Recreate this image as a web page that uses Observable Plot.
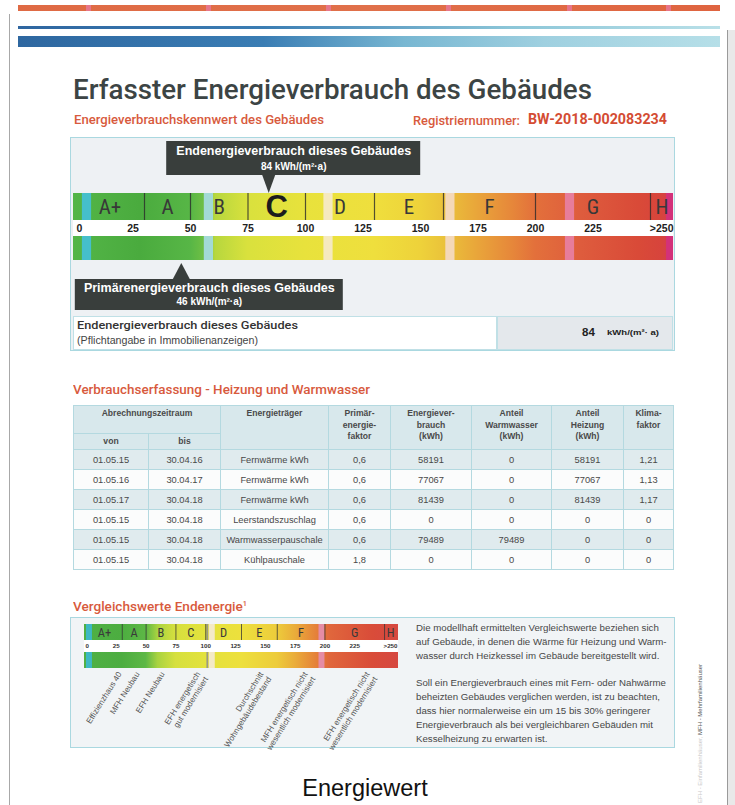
<!DOCTYPE html>
<html lang="de">
<head>
<meta charset="utf-8">
<script src="https://cdn.jsdelivr.net/npm/d3@7"></script>
<script src="https://cdn.jsdelivr.net/npm/@observablehq/plot@0.6"></script>
<style>
html,body{margin:0;padding:0;background:#fff;}
#page{position:relative;width:735px;height:805px;overflow:hidden;font-family:"Liberation Sans",Arial,sans-serif;}
.t{position:absolute;white-space:nowrap;line-height:1;transform-origin:0 0;}
.din{font-family:Roboto,"Liberation Sans",sans-serif;font-weight:500;}
.abs{position:absolute;}
table.tab{position:absolute;left:73px;top:405px;width:600px;border-collapse:collapse;table-layout:fixed;font-size:9.3px;color:#484848;}
table.tab td,table.tab th{border:1px solid #b4d9e0;text-align:center;padding:0;white-space:nowrap;overflow:hidden;}
table.tab th{background:#d8e8ec;font-weight:bold;font-size:8.6px;color:#4a4a4a;vertical-align:top;line-height:11.6px;padding-top:2px;}
table.tab th.sub{vertical-align:middle;padding-top:0;}
table.tab tr.h1{height:28px;}
table.tab tr.h2{height:16px;}
table.tab tr.r{height:20px;}
table.tab tr.s td{background:#e0ebee;}
table.tab tr.w td{background:#fbfcfc;}
</style>
</head>
<body>
<div id="page"></div>
<script>
// ---------- DATA ----------
const classes = ["A+","A","B","C","D","E","F","G","H"];
const classStart = [0,30,50,75,100,130,160,200,250];
const classEnd = [30,50,75,100,130,160,200,250,260];
const scaleTicks = [0,25,50,75,100,125,150,175,200,225,250];
const scaleTickLabels = ["0","25","50","75","100","125","150","175","200","225",">250"];
const endenergieWert = 84;
const primaerenergieWert = 46;
const endenergieKlasse = "C";
const einheit = "kWh/(m²·a)";

const vergleichsLabels = ["Effizienzhaus 40","MFH Neubau","EFH Neubau","EFH energetisch\ngut modernisiert","Durchschnitt\nWohngebäudebestand","MFH energetisch nicht\nwesentlich modernisiert","EFH energetisch nicht\nwesentlich modernisiert"];
const vergleichsWerte = [25,40,61,91,144,181,233];

const tabVon = ["01.05.15","01.05.16","01.05.17","01.05.15","01.05.15","01.05.15"];
const tabBis = ["30.04.16","30.04.17","30.04.18","30.04.18","30.04.18","30.04.18"];
const tabTraeger = ["Fernwärme kWh","Fernwärme kWh","Fernwärme kWh","Leerstandszuschlag","Warmwasserpauschale","Kühlpauschale"];
const tabPEF = ["0,6","0,6","0,6","0,6","0,6","1,8"];
const tabVerbrauch = [58191,77067,81439,0,79489,0];
const tabWarmwasser = [0,0,0,0,79489,0];
const tabHeizung = [58191,77067,81439,0,0,0];
const tabKlima = ["1,21","1,13","1,17","0","0","0"];
const tabHeader = ["Abrechnungszeitraum","von","bis","Energieträger","Primär-<br>energie-<br>faktor","Energiever-<br>brauch<br>(kWh)","Anteil<br>Warmwasser<br>(kWh)","Anteil<br>Heizung<br>(kWh)","Klima-<br>faktor"];

const infoText = [
 ["Die modellhaft ermittelten Vergleichswerte beziehen sich","auf Gebäude, in denen die Wärme für Heizung und Warm-","wasser durch Heizkessel im Gebäude bereitgestellt wird."],
 ["Soll ein Energieverbrauch eines mit Fern- oder Nahwärme","beheizten Gebäudes verglichen werden, ist zu beachten,","dass hier normalerweise ein um 15 bis 30% geringerer","Energieverbrauch als bei vergleichbaren Gebäuden mit","Kesselheizung zu erwarten ist."]
];

// ---------- STYLE (colour ramps, print marks) ----------
const gradMain = [[0,"#53b547"],[28,"#4aab3e"],[50,"#57b646"],[56,"#6fbf44"],[61,"#b7d73e"],[75,"#d9e13d"],[100,"#e8e23c"],[130,"#efdf3d"],[150,"#eed23a"],[162,"#eac03a"],[175,"#e9a53a"],[190,"#e6873a"],[200,"#e3703b"],[220,"#de5c3d"],[245,"#d94a38"],[255,"#d7443c"],[260,"#d53a55"]];
const stripesMain = [[3,7,"#45bfcb"],[56,60,"#a3dad5"],[108,112,"#f5e9bf"],[161,165,"#f4d8b8"],[213,217,"#e77d9b"],[257,260,"#d3317a"]];
const gradCmp = [[0,"#4fb044"],[30,"#4cad40"],[50,"#5db846"],[60,"#a9d340"],[75,"#d6e03e"],[100,"#e3e23d"],[130,"#ede03d"],[160,"#edcc3b"],[175,"#eaad3a"],[195,"#e47c39"],[205,"#e0663c"],[240,"#d94c39"],[260,"#d64840"]];
const stripesCmp = [[0,5,"#3db8c3"],[101,102.5,"#9a9a86"],[103,108,"#f4eac6"],[195,200,"#e58ca5"]];

const page = document.getElementById("page");
function el(tag, cls, style, html, parent=page){const e=document.createElement(tag); if(cls) e.className=cls; Object.assign(e.style, style||{}); if(html!=null) e.innerHTML=html; parent.appendChild(e); return e;}
function txt(html, left, baseline, fs, style, fitW, cls="t"){
  const e = el("div", cls, Object.assign({left:left+"px", top:(baseline-0.845*fs)+"px", fontSize:fs+"px"}, style||{}), html);
  if(fitW){const w=e.getBoundingClientRect().width; if(w>0) e.style.transform=`scaleX(${fitW/w})`;}
  return e;
}
function addGradient(svg, id, stops, xmax){
  const ns="http://www.w3.org/2000/svg", sx=svg.scale("x");
  const defs=document.createElementNS(ns,"defs"), lg=document.createElementNS(ns,"linearGradient");
  lg.setAttribute("id",id); lg.setAttribute("gradientUnits","userSpaceOnUse");
  lg.setAttribute("x1",sx.apply(0)); lg.setAttribute("x2",sx.apply(xmax)); lg.setAttribute("y1",0); lg.setAttribute("y2",0);
  for(const [v,c] of stops){const s=document.createElementNS(ns,"stop"); s.setAttribute("offset",v/xmax); s.setAttribute("stop-color",c); lg.appendChild(s);}
  defs.appendChild(lg); svg.insertBefore(defs, svg.firstChild);
}

// ---------- PAGE FRAME ----------
el("div","abs",{left:"9px",top:"14px",width:"1px",height:"791px",background:"#a8a8a8"});
el("div","abs",{left:"727px",top:"30px",width:"8px",height:"775px",background:"#e9e9e9",borderLeft:"1px solid #9a9a9a"});
el("div","abs",{left:"18px",top:"5px",width:"702px",height:"6px",background:"linear-gradient(90deg,#df6a44,#e0704a 50%,#df6440)"});
for(const px of [86,206,326,446,567,666]) el("div","abs",{left:px+"px",top:"5px",width:"5px",height:"6px",background:"#e87aa8",opacity:"0.7"});
el("div","abs",{left:"18px",top:"26px",width:"702px",height:"3px",background:"linear-gradient(90deg,#2f66a0,#3b7db3 35%,#8cc6d8 70%,#b9e0e8)"});
el("div","abs",{left:"18px",top:"36px",width:"702px",height:"11px",background:"linear-gradient(90deg,#2e67a0,#3a7db4 35%,#78b7d2 55%,#9fd0e0 75%,#b6dfe8)"});

// ---------- HEADINGS ----------
txt("Erfasster Energieverbrauch des Gebäudes",73,100,28,{color:"#3c4444"},519,"t din");
txt("Energieverbrauchskennwert des Gebäudes",74,125,12.5,{color:"#d85a3d"},250,"t din");
txt("Registriernummer:",413,125,13,{color:"#d85a3d"},107,"t din");
txt("BW-2018-002083234",528,125,14.5,{color:"#d44c33",fontWeight:"700"},139,"t din");

// ---------- MAIN SCALE BOX ----------
el("div","abs",{left:"70px",top:"137px",width:"605px",height:"214px",boxSizing:"border-box",border:"1px solid #aad8e0",background:"#eef1f4"});
const xMax = classEnd[classEnd.length-1];
const classData = classes.map((k,i)=>({klasse:k, von:classStart[i], bis:classEnd[i]}));
const H1 = 178;
const bar1 = {insetTop:56, insetBottom:H1-83};
const strip = {insetTop:83, insetBottom:H1-99};
const bar2 = {insetTop:99, insetBottom:H1-123};
const span = [[classStart[0], xMax]];
const pointerDown = {draw(c){c.moveTo(-6.5,0);c.lineTo(6.5,0);c.lineTo(0,18);c.closePath();}};
const pointerUp = {draw(c){c.moveTo(-9,0);c.lineTo(9,0);c.lineTo(0,-17);c.closePath();}};
const calloutFill = "#393e3c";
const narrow = "'Liberation Sans Narrow','Roboto Condensed','DejaVu Sans Condensed','Liberation Sans',sans-serif";
const T = {frameAnchor:"top", lineAnchor:"middle"};

const mainPlot = Plot.plot({
  width:605, height:H1, marginLeft:5, marginRight:2, marginTop:0, marginBottom:0,
  x:{domain:[0,xMax], axis:null}, color:{type:"identity"},
  style:{background:"transparent", fontFamily:"'Liberation Sans',Arial,sans-serif", overflow:"visible"},
  marks:[
    Plot.rect(span,{x1:d=>d[0],x2:d=>d[1],...bar1,insetLeft:-2,fill:"url(#gMain)"}),
    Plot.rect(span,{x1:d=>d[0],x2:d=>d[1],...strip,insetLeft:-2,fill:"#ffffff"}),
    Plot.rect(span,{x1:d=>d[0],x2:d=>d[1],...bar2,insetLeft:-2,fill:"url(#gMain)"}),
    Plot.rect(stripesMain,{x1:d=>d[0],x2:d=>d[1],...bar1,fill:d=>d[2]}),
    Plot.rect(stripesMain,{x1:d=>d[0],x2:d=>d[1],...bar2,fill:d=>d[2]}),
    Plot.ruleX(classStart.slice(1),{...bar1,stroke:"#2b2b2b",strokeWidth:1.2,strokeOpacity:0.8}),
    Plot.text(classData.filter(d=>d.klasse!==endenergieKlasse),{x:d=>(d.von+d.bis)/2,text:"klasse",...T,dy:70,fontSize:21,fill:"#383838",fontFamily:narrow}),
    Plot.text(classData.filter(d=>d.klasse===endenergieKlasse),{x:d=>(d.von+d.bis)/2,text:"klasse",...T,dy:70,fontSize:31,fontWeight:"bold",fill:"#1c1c1c"}),
    Plot.text(scaleTicks.slice(1,-1),{x:d=>d,text:d=>scaleTickLabels[scaleTicks.indexOf(d)],...T,dy:91,fontSize:10.5,fontWeight:"bold",fill:"#222"}),
    Plot.text([scaleTicks[0]],{x:d=>d,text:()=>scaleTickLabels[0],textAnchor:"start",dx:1,...T,dy:91,fontSize:10.5,fontWeight:"bold",fill:"#222"}),
    Plot.text([xMax],{x:d=>d,text:()=>scaleTickLabels[scaleTickLabels.length-1],textAnchor:"end",...T,dy:91,fontSize:10.5,fontWeight:"bold",fill:"#222"}),
    // Endenergie callout
    Plot.rect([endenergieWert],{x1:d=>d,x2:d=>d,insetLeft:-102,insetRight:-152,insetTop:4,insetBottom:H1-38,fill:calloutFill}),
    Plot.dot([endenergieWert],{x:d=>d,frameAnchor:"top",dy:37.5,symbol:pointerDown,fill:calloutFill,r:5}),
    Plot.text([endenergieWert],{x:d=>d,dx:25,...T,dy:13,text:()=>"Endenergieverbrauch dieses Gebäudes",fill:"#fff",fontWeight:"bold",fontSize:12.5}),
    Plot.text([endenergieWert],{x:d=>d,dx:25,...T,dy:29,text:d=>`${d} ${einheit}`,fill:"#fff",fontWeight:"bold",fontSize:10}),
    // Primärenergie callout
    Plot.rect([primaerenergieWert],{x1:d=>d,x2:d=>d,insetLeft:-106,insetRight:-162,insetTop:142,insetBottom:H1-173,fill:calloutFill}),
    Plot.dot([primaerenergieWert],{x:d=>d,frameAnchor:"top",dy:142.5,symbol:pointerUp,fill:calloutFill,r:5}),
    Plot.text([primaerenergieWert],{x:d=>d,dx:28,...T,dy:150,text:()=>"Primärenergieverbrauch dieses Gebäudes",fill:"#fff",fontWeight:"bold",fontSize:12.5}),
    Plot.text([primaerenergieWert],{x:d=>d,dx:28,...T,dy:164,text:d=>`${d} ${einheit}`,fill:"#fff",fontWeight:"bold",fontSize:10})
  ]
});
addGradient(mainPlot,"gMain",gradMain,xMax);
Object.assign(mainPlot.style,{position:"absolute",left:"70px",top:"137px"});
page.appendChild(mainPlot);

// bottom row of box
el("div","abs",{left:"73px",top:"316px",width:"424px",height:"34px",boxSizing:"border-box",border:"1px solid #c0e0e6",background:"#fff"});
el("div","abs",{left:"497px",top:"316px",width:"176px",height:"34px",boxSizing:"border-box",border:"1px solid #c0e0e6",background:"#e4e8ec"});
txt("Endenergieverbrauch dieses Gebäudes",77,330,11.5,{color:"#333"},221,"t din");
txt("(Pflichtangabe in Immobilienanzeigen)",77,344,10,{color:"#444"},181);
txt(String(endenergieWert),582,336.5,11.5,{color:"#222",fontWeight:"bold"});
txt("kWh/(m²· a)",607,335.5,8,{color:"#222",fontWeight:"bold"},52);

// ---------- TABLE ----------
txt("Verbrauchserfassung - Heizung und Warmwasser",73,394,13,{color:"#d85a3d"},297,"t din");
let th = `<colgroup>${[75,72,108,62,81,80,72,50].map(w=>`<col style="width:${w}px">`).join("")}</colgroup>`;
th += `<tr class="h1"><th colspan="2">${tabHeader[0]}</th>${tabHeader.slice(3).map(h=>`<th rowspan="2">${h}</th>`).join("")}</tr>`;
th += `<tr class="h2"><th class="sub">${tabHeader[1]}</th><th class="sub">${tabHeader[2]}</th></tr>`;
tabVon.forEach((v,i)=>{
  th += `<tr class="r ${i%2===0?"s":"w"}"><td>${v}</td><td>${tabBis[i]}</td><td>${tabTraeger[i]}</td><td>${tabPEF[i]}</td><td>${tabVerbrauch[i]}</td><td>${tabWarmwasser[i]}</td><td>${tabHeizung[i]}</td><td>${tabKlima[i]}</td></tr>`;
});
el("table","tab",{},th);

// ---------- COMPARISON ----------
txt("Vergleichswerte Endenergie<span style='font-size:7px;vertical-align:5px'>1</span>",73,611,13,{color:"#d85a3d"},174,"t din");
el("div","abs",{left:"70px",top:"617px",width:"605px",height:"131px",boxSizing:"border-box",border:"1px solid #aad8e0",background:"#f1f4f6"});
const H3 = 128;
const cb1 = {insetTop:4, insetBottom:H3-20};
const cstrip = {insetTop:20, insetBottom:H3-32};
const cb2 = {insetTop:32, insetBottom:H3-48};
const cmpPlot = Plot.plot({
  width:320, height:H3, marginLeft:6, marginRight:4, marginTop:0, marginBottom:0,
  x:{domain:[0,xMax], axis:null}, color:{type:"identity"},
  style:{background:"transparent", fontFamily:"'Liberation Sans',Arial,sans-serif", overflow:"visible"},
  marks:[
    Plot.rect(span,{x1:d=>d[0],x2:d=>d[1],...cb1,insetLeft:-2,insetRight:-2,fill:"url(#gCmp)"}),
    Plot.rect(span,{x1:d=>d[0],x2:d=>d[1],...cstrip,insetLeft:-2,insetRight:-2,fill:"#ffffff"}),
    Plot.rect(span,{x1:d=>d[0],x2:d=>d[1],...cb2,insetLeft:-2,insetRight:-2,fill:"url(#gCmp)"}),
    Plot.rect(stripesCmp,{x1:d=>d[0],x2:d=>d[1],...cb1,fill:d=>d[2]}),
    Plot.rect(stripesCmp,{x1:d=>d[0],x2:d=>d[1],...cb2,fill:d=>d[2]}),
    Plot.ruleX(classStart.slice(1),{...cb1,stroke:"#333",strokeWidth:1,strokeOpacity:0.75}),
    Plot.text(classData,{x:d=>(d.von+d.bis)/2,text:"klasse",...T,dy:12,fontSize:12.5,fill:"#3a3a3a",fontFamily:narrow}),
    Plot.text(scaleTicks.slice(1,-1),{x:d=>d,text:d=>scaleTickLabels[scaleTicks.indexOf(d)],...T,dy:26,fontSize:6.2,fontWeight:"bold",fill:"#333"}),
    Plot.text([scaleTicks[0]],{x:d=>d,text:()=>scaleTickLabels[0],textAnchor:"start",dx:-1,...T,dy:26,fontSize:6.2,fontWeight:"bold",fill:"#333"}),
    Plot.text([xMax],{x:d=>d,text:()=>scaleTickLabels[scaleTickLabels.length-1],textAnchor:"end",dx:1,...T,dy:26,fontSize:6.2,fontWeight:"bold",fill:"#333"}),
    Plot.text(vergleichsLabels,{x:vergleichsWerte,text:d=>d,frameAnchor:"top",dy:50,rotate:-58,textAnchor:"end",lineAnchor:"top",lineHeight:1.15,fontSize:8.1,fill:"#555"})
  ]
});
addGradient(cmpPlot,"gCmp",gradCmp,xMax);
Object.assign(cmpPlot.style,{position:"absolute",left:"80px",top:"620px"});
page.appendChild(cmpPlot);

// info text
let yb = 631;
infoText.forEach((para)=>{
  para.forEach(line=>{ txt(line,416,yb,9.7,{color:"#474747"}); yb+=14; });
  yb += 13;
});

// vertical footnote
const vt = el("div","t",{left:"697px",fontSize:"6px",color:"#555",transform:"rotate(-90deg)",transformOrigin:"0 0"},"<span style='color:#c8c8c8'>EFH - Einfamilienhäuser, </span>MFH - Mehrfamilienhäuser");
vt.style.top = "803px";

// caption
const cap = txt("Energiewert",0,797,23.5,{color:"#111"});
const cw = cap.getBoundingClientRect().width;
cap.style.left = (365 - cw/2) + "px";
</script>
</body>
</html>
